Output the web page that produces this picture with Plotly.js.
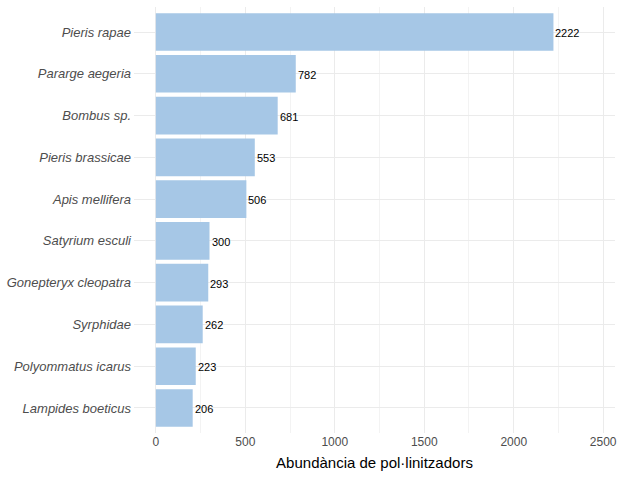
<!DOCTYPE html>
<html>
<head>
<meta charset="utf-8">
<script src="https://cdn.plot.ly/plotly-3.0.1.min.js"></script>
<style>html,body{margin:0;padding:0;background:#fff;}#chart{width:623px;height:479px;}</style>
</head>
<body>
<div id="chart"></div>
<script>
const species = ["Pieris rapae","Pararge aegeria","Bombus sp.","Pieris brassicae","Apis mellifera","Satyrium esculi","Gonepteryx cleopatra","Syrphidae","Polyommatus icarus","Lampides boeticus"];
const abundance = [2222,782,681,553,506,300,293,262,223,206];
const xTicks = [0,500,1000,1500,2000,2500];
const xTitle = "Abundància de pol·linitzadors";

const bars = {
  type: 'bar', orientation: 'h',
  x: abundance, y: species,
  width: 0.9,
  marker: {color: '#a6c7e6', line: {width: 0}},
  hoverinfo: 'none'
};

const annotations = species.map((s, i) => ({
  x: abundance[i], y: s, xref: 'x', yref: 'y',
  text: String(abundance[i]), showarrow: false,
  xanchor: 'left', yanchor: 'middle', xshift: 0, yshift: -1,
  font: {family: 'Liberation Sans, Arial, sans-serif', size: 11, color: '#000000'}
}));

const minor = [];
for (let v = 250; v < 2600; v += 500) minor.push(v);

const layout = {
  width: 623, height: 479,
  margin: {l: 134, r: 8, t: 7, b: 46},
  paper_bgcolor: '#ffffff', plot_bgcolor: '#ffffff',
  showlegend: false,
  xaxis: {
    range: [-122, 2566],
    tickmode: 'array', tickvals: xTicks, ticktext: xTicks.map(String),
    showgrid: true, gridcolor: '#ebebeb', gridwidth: 1.1,
    minor: {tickmode: 'array', tickvals: minor, showgrid: true, gridcolor: '#ebebeb', gridwidth: 0.6},
    zeroline: false, showline: false, ticks: '',
    tickfont: {family: 'Liberation Sans, Arial, sans-serif', size: 12, color: '#4d4d4d'},
    title: {text: xTitle, standoff: 9, font: {family: 'Liberation Sans, Arial, sans-serif', size: 15, color: '#000000'}}
  },
  yaxis: {
    type: 'category', categoryorder: 'array', categoryarray: species,
    range: [9.6, -0.6],
    showgrid: true, gridcolor: '#ebebeb', gridwidth: 1.1,
    zeroline: false, showline: false, ticks: '',
    ticklabelstandoff: 2,
    tickfont: {family: 'Liberation Sans, Arial, sans-serif', size: 13, color: '#4d4d4d', style: 'italic'}
  },
  annotations: annotations
};

Plotly.newPlot('chart', [bars], layout, {staticPlot: true, displayModeBar: false});
</script>
</body>
</html>
